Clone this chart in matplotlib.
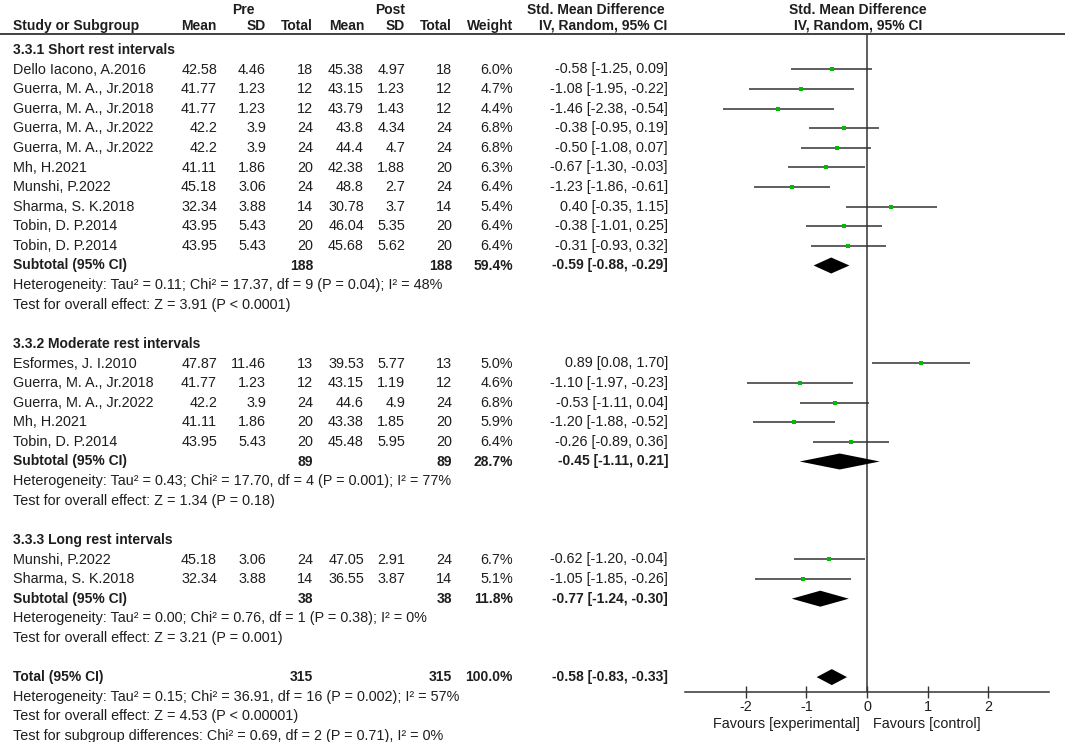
"""Forest plot: pre vs post, standardised mean difference by rest interval."""

import matplotlib

matplotlib.use("Agg")
import matplotlib.pyplot as plt
import numpy as np

plt.rcParams["font.family"] = ["Liberation Sans", "DejaVu Sans"]

TEXT = "#1e1e1e"
LINE = "#333333"
GREEN = "#00bb00"

# ---- data -------------------------------------------------------------
group_titles = [
    "3.3.1 Short rest intervals",
    "3.3.2 Moderate rest intervals",
    "3.3.3 Long rest intervals",
]

names = [
    ["Dello Iacono, A.2016", "Guerra, M. A., Jr.2018", "Guerra, M. A., Jr.2018",
     "Guerra, M. A., Jr.2022", "Guerra, M. A., Jr.2022", "Mh, H.2021",
     "Munshi, P.2022", "Sharma, S. K.2018", "Tobin, D. P.2014", "Tobin, D. P.2014"],
    ["Esformes, J. I.2010", "Guerra, M. A., Jr.2018", "Guerra, M. A., Jr.2022",
     "Mh, H.2021", "Tobin, D. P.2014"],
    ["Munshi, P.2022", "Sharma, S. K.2018"],
]
pre_mean = [
    [42.58, 41.77, 41.77, 42.2, 42.2, 41.11, 45.18, 32.34, 43.95, 43.95],
    [47.87, 41.77, 42.2, 41.11, 43.95],
    [45.18, 32.34],
]
pre_sd = [
    [4.46, 1.23, 1.23, 3.9, 3.9, 1.86, 3.06, 3.88, 5.43, 5.43],
    [11.46, 1.23, 3.9, 1.86, 5.43],
    [3.06, 3.88],
]
pre_n = [
    [18, 12, 12, 24, 24, 20, 24, 14, 20, 20],
    [13, 12, 24, 20, 20],
    [24, 14],
]
post_mean = [
    [45.38, 43.15, 43.79, 43.8, 44.4, 42.38, 48.8, 30.78, 46.04, 45.68],
    [39.53, 43.15, 44.6, 43.38, 45.48],
    [47.05, 36.55],
]
post_sd = [
    [4.97, 1.23, 1.43, 4.34, 4.7, 1.88, 2.7, 3.7, 5.35, 5.62],
    [5.77, 1.19, 4.9, 1.85, 5.95],
    [2.91, 3.87],
]
post_n = pre_n
weights = [
    [6.0, 4.7, 4.4, 6.8, 6.8, 6.3, 6.4, 5.4, 6.4, 6.4],
    [5.0, 4.6, 6.8, 5.9, 6.4],
    [6.7, 5.1],
]
smd = [
    [-0.58, -1.08, -1.46, -0.38, -0.50, -0.67, -1.23, 0.40, -0.38, -0.31],
    [0.89, -1.10, -0.53, -1.20, -0.26],
    [-0.62, -1.05],
]
ci_lo = [
    [-1.25, -1.95, -2.38, -0.95, -1.08, -1.30, -1.86, -0.35, -1.01, -0.93],
    [0.08, -1.97, -1.11, -1.88, -0.89],
    [-1.20, -1.85],
]
ci_hi = [
    [0.09, -0.22, -0.54, 0.19, 0.07, -0.03, -0.61, 1.15, 0.25, 0.32],
    [1.70, -0.23, 0.04, -0.52, 0.36],
    [-0.04, -0.26],
]

sub_n = [188, 89, 38]
sub_weight = [59.4, 28.7, 11.8]
sub_smd = [-0.59, -0.45, -0.77]
sub_lo = [-0.88, -1.11, -1.24]
sub_hi = [-0.29, 0.21, -0.30]
sub_het = [
    "Heterogeneity: Tau\u00b2 = 0.11; Chi\u00b2 = 17.37, df = 9 (P = 0.04); I\u00b2 = 48%",
    "Heterogeneity: Tau\u00b2 = 0.43; Chi\u00b2 = 17.70, df = 4 (P = 0.001); I\u00b2 = 77%",
    "Heterogeneity: Tau\u00b2 = 0.00; Chi\u00b2 = 0.76, df = 1 (P = 0.38); I\u00b2 = 0%",
]
sub_test = [
    "Test for overall effect: Z = 3.91 (P < 0.0001)",
    "Test for overall effect: Z = 1.34 (P = 0.18)",
    "Test for overall effect: Z = 3.21 (P = 0.001)",
]

total_n = 315
total_weight = 100.0
total_smd, total_lo, total_hi = -0.58, -0.83, -0.33
total_notes = [
    "Heterogeneity: Tau\u00b2 = 0.15; Chi\u00b2 = 36.91, df = 16 (P = 0.002); I\u00b2 = 57%",
    "Test for overall effect: Z = 4.53 (P < 0.00001)",
    "Test for subgroup differences: Chi\u00b2 = 0.69, df = 2 (P = 0.71), I\u00b2 = 0%",
]

x_ticks = [-2, -1, 0, 1, 2]

# ---- layout (pixel columns / rows) ---------------------------------------
W, H = 1065, 742
FS = 10.4       # regular text
FS_B = 10       # bold text
ROW0, STEP = 69.5, 19.6
COL_STUDY = 13
COL_RIGHT = [217, 266, 313, 364, 405, 452, 513]  # pre mean, sd, n, post mean, sd, n, weight
COL_CI = 668


def row_y(i):
    return ROW0 + STEP * i


def fmt_ci(e, lo, hi):
    return f"{e:.2f} [{lo:.2f}, {hi:.2f}]"


fig = plt.figure(figsize=(W / 100, H / 100), dpi=100)
tab = fig.add_axes([0, 0, 1, 1])
tab.set_xlim(0, W)
tab.set_ylim(H, 0)
tab.axis("off")

fx0, fx1 = 685, 1049
fy_top, fy_bot = 34, 692
fax = fig.add_axes([fx0 / W, 1 - fy_bot / H, (fx1 - fx0) / W, (fy_bot - fy_top) / H])
fax.patch.set_visible(False)
fax.set_xlim(-3, 3)
fax.set_ylim(fy_bot, fy_top)


def put(x, y, s, ha="right", bold=False):
    tab.text(x, y, s, ha=ha, va="center", fontsize=FS_B if bold else FS,
             color=TEXT, fontweight="bold" if bold else "normal")


# header
put(243, 9.5, "Pre", ha="center", bold=True)
put(390, 9.5, "Post", ha="center", bold=True)
put(596, 9.5, "Std. Mean Difference", ha="center", bold=True)
put(858, 9.5, "Std. Mean Difference", ha="center", bold=True)
put(COL_STUDY, 26, "Study or Subgroup", ha="left", bold=True)
for x, lab in zip(COL_RIGHT, ["Mean", "SD", "Total", "Mean", "SD", "Total", "Weight"]):
    put(x, 26, lab, bold=True)
put(COL_CI - 1, 26, "IV, Random, 95% CI", bold=True)
put(858, 26, "IV, Random, 95% CI", ha="center", bold=True)
tab.axhline(33.5, color=LINE, lw=1.3)

# body
r = -1
for g in range(len(group_titles)):
    put(COL_STUDY, row_y(r), group_titles[g], ha="left", bold=True)
    r += 1
    ys = []
    for k in range(len(names[g])):
        y = row_y(r)
        ys.append(y)
        put(COL_STUDY, y, names[g][k], ha="left")
        vals = [f"{pre_mean[g][k]:g}", f"{pre_sd[g][k]:g}", f"{pre_n[g][k]}",
                f"{post_mean[g][k]:g}", f"{post_sd[g][k]:g}", f"{post_n[g][k]}",
                f"{weights[g][k]:.1f}%"]
        for x, v in zip(COL_RIGHT, vals):
            put(x, y, v)
        put(COL_CI, y, fmt_ci(smd[g][k], ci_lo[g][k], ci_hi[g][k]))
        r += 1
    ys = np.array(ys)
    fax.hlines(ys, ci_lo[g], ci_hi[g], color=LINE, lw=1.1, zorder=2)
    ms = 3.3 * np.sqrt(np.array(weights[g]) / 6.8)
    for yy, e, m in zip(ys, smd[g], ms):
        fax.plot(e, yy, "s", color=GREEN, ms=m, mew=0, zorder=3)

    y = row_y(r)
    put(COL_STUDY, y, "Subtotal (95% CI)", ha="left", bold=True)
    put(COL_RIGHT[2], y, f"{sub_n[g]}", bold=True)
    put(COL_RIGHT[5], y, f"{sub_n[g]}", bold=True)
    put(COL_RIGHT[6], y, f"{sub_weight[g]:.1f}%", bold=True)
    put(COL_CI, y, fmt_ci(sub_smd[g], sub_lo[g], sub_hi[g]), bold=True)
    fax.fill([sub_lo[g], sub_smd[g], sub_hi[g], sub_smd[g]],
             [y, y - 8, y, y + 8], color="black", lw=0, zorder=3)
    r += 1
    put(COL_STUDY, row_y(r), sub_het[g], ha="left")
    r += 1
    put(COL_STUDY, row_y(r), sub_test[g], ha="left")
    r += 2

# overall
y = row_y(r)
put(COL_STUDY, y, "Total (95% CI)", ha="left", bold=True)
put(COL_RIGHT[2], y, f"{total_n}", bold=True)
put(COL_RIGHT[5], y, f"{total_n}", bold=True)
put(COL_RIGHT[6], y, f"{total_weight:.1f}%", bold=True)
put(COL_CI, y, fmt_ci(total_smd, total_lo, total_hi), bold=True)
fax.fill([total_lo, total_smd, total_hi, total_smd],
         [y, y - 8, y, y + 8], color="black", lw=0, zorder=3)
for note in total_notes:
    r += 1
    put(COL_STUDY, row_y(r), note, ha="left")

# forest axis
fax.axvline(0, color=LINE, lw=1.1, zorder=1)
for side in ["top", "left", "right"]:
    fax.spines[side].set_visible(False)
fax.spines["bottom"].set_color(LINE)
fax.spines["bottom"].set_linewidth(1.1)
fax.set_yticks([])
fax.set_xticks(x_ticks)
fax.set_xticklabels([f"{t:d}" for t in x_ticks])
fax.tick_params(axis="x", direction="inout", length=8, width=1.0, color=LINE,
                labelsize=FS, labelcolor=TEXT, pad=2)
fax.text(-0.12, 724, "Favours [experimental]", ha="right", va="center",
         fontsize=FS, color=TEXT, clip_on=False)
fax.text(0.10, 724, "Favours [control]", ha="left", va="center",
         fontsize=FS, color=TEXT, clip_on=False)

fig.savefig("out.png", dpi=100)
plt.close(fig)
